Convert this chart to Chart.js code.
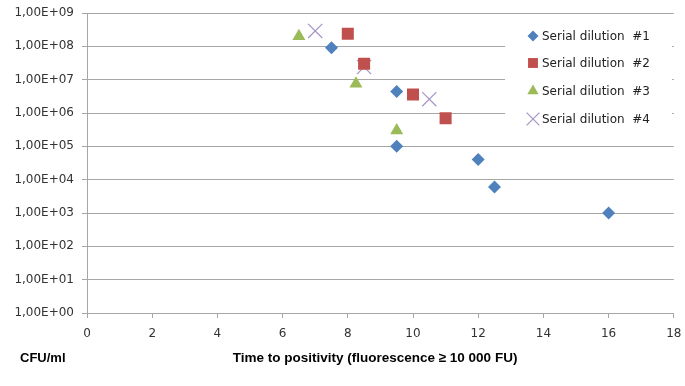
<!DOCTYPE html>
<html>
<head>
<meta charset="utf-8">
<script src="https://cdn.jsdelivr.net/npm/chart.js@4.4.1/dist/chart.umd.min.js"></script>
<style>
  html, body { margin: 0; padding: 0; background: #fff; }
  #wrap { width: 685px; height: 386px; }
</style>
</head>
<body>
<div id="wrap"><canvas id="cfuChart" width="685" height="386"></canvas></div>
<script>
// values (x = hours, y = CFU/ml)
const seriesNames = ['Serial dilution  #1', 'Serial dilution  #2', 'Serial dilution  #3', 'Serial dilution  #4'];
const dil1X = [7.5, 9.5, 9.5, 12, 12.5, 16];
const dil1Y = [9e7, 4.4e6, 1e5, 4e4, 6e3, 1e3];
const dil2X = [8, 8.5, 10, 11];
const dil2Y = [2.4e8, 3e7, 3.6e6, 7e5];
const dil3X = [6.5, 8.25, 9.5];
const dil3Y = [2e8, 7.5e6, 3e5];
const dil4X = [7, 8.5, 10.5];
const dil4Y = [2.9e8, 2.4e7, 2.6e6];
const yTicks = [1, 1e1, 1e2, 1e3, 1e4, 1e5, 1e6, 1e7, 1e8, 1e9];

const toPoints = (xs, ys) => xs.map((x, i) => ({ x, y: ys[i] }));

const styles = [
    { color: '#4f81bd', pointStyle: 'rectRot', radius: 6.5, border: 0 },
    { color: '#c0504d', pointStyle: 'rect', radius: 8.5, border: 0 },
    { color: '#9bbb59', pointStyle: 'triangle', radius: 7.5, border: 0 },
    { color: '#a593c6', pointStyle: 'crossRot', radius: 10, border: 1.2 }
];

const datasets = [[dil1X, dil1Y], [dil2X, dil2Y], [dil3X, dil3Y], [dil4X, dil4Y]].map(([xs, ys], i) => ({
    label: seriesNames[i],
    data: toPoints(xs, ys),
    showLine: false,
    pointStyle: styles[i].pointStyle,
    pointRadius: styles[i].radius,
    pointHoverRadius: styles[i].radius,
    backgroundColor: styles[i].color,
    borderColor: styles[i].color,
    pointBorderWidth: styles[i].border
}));

function fmtSci(v) {
    const e = Math.round(Math.log10(v));
    return '1,00E+' + String(e).padStart(2, '0');
}

const tickFont = { family: 'DejaVu Sans', size: 12 };

// white legend box floating over the right side of the plot
const floatLegend = {
    id: 'floatLegend',
    afterDatasetsDraw(chart) {
        const ctx = chart.ctx;
        ctx.save();
        ctx.fillStyle = '#fff';
        ctx.fillRect(505, 20, 167, 117);
        ctx.font = '12px "DejaVu Sans"';
        ctx.textBaseline = 'middle';
        const rows = [36, 63, 91, 119];
        chart.data.datasets.forEach((ds, i) => {
            const s = styles[i];
            ctx.fillStyle = s.color;
            ctx.strokeStyle = s.color;
            ctx.lineWidth = s.border || 1;
            Chart.helpers.drawPoint(ctx, {
                pointStyle: s.pointStyle,
                radius: s.pointStyle === 'rect' ? 7 : (s.pointStyle === 'crossRot' ? 9 : s.radius - 1),
                borderWidth: s.border
            }, 533, rows[i]);
            ctx.fillStyle = '#222';
            ctx.fillText(ds.label, 542, rows[i] + 1);
        });
        ctx.restore();
    },
    afterDraw(chart) {
        const ctx = chart.ctx;
        ctx.save();
        ctx.fillStyle = '#000';
        ctx.textBaseline = 'middle';
        ctx.textAlign = 'left';
        ctx.font = 'bold 13px "Liberation Sans"';
        ctx.fillText('CFU/ml', 20, 358);
        ctx.textAlign = 'center';
        ctx.font = 'bold 13.5px "Liberation Sans"';
        ctx.fillText('Time to positivity (fluorescence \u2265 10 000 FU)', 375, 358);
        ctx.restore();
    }
};

new Chart(document.getElementById('cfuChart').getContext('2d'), {
    type: 'scatter',
    data: { datasets },
    options: {
        responsive: false,
        animation: false,
        layout: { padding: { top: 13, right: 11, bottom: 0, left: 0 } },
        plugins: {
            legend: { display: false },
            tooltip: { enabled: false }
        },
        scales: {
            x: {
                type: 'linear',
                min: 0,
                max: 18,
                ticks: { stepSize: 2, color: '#333', font: tickFont, padding: 9 },
                grid: { drawOnChartArea: false, drawTicks: true, tickLength: 5, color: '#a6a6a6' },
                border: { color: '#a6a6a6', width: 1 },
                afterFit: scale => {
                    scale.height = 73;
                    scale.paddingLeft = 0;
                    scale.paddingRight = 0;
                }
            },
            y: {
                type: 'logarithmic',
                min: 1,
                max: 1e9,
                afterBuildTicks: scale => { scale.ticks = yTicks.map(v => ({ value: v })); },
                ticks: { color: '#333', font: tickFont, padding: 8, callback: v => fmtSci(v) },
                grid: { color: '#a6a6a6', lineWidth: 1, tickLength: 5 },
                border: { color: '#a6a6a6', width: 1 },
                afterFit: scale => {
                    scale.width = 87;
                    scale.paddingTop = 0;
                    scale.paddingBottom = 0;
                }
            }
        }
    },
    plugins: [floatLegend]
});
</script>
</body>
</html>
